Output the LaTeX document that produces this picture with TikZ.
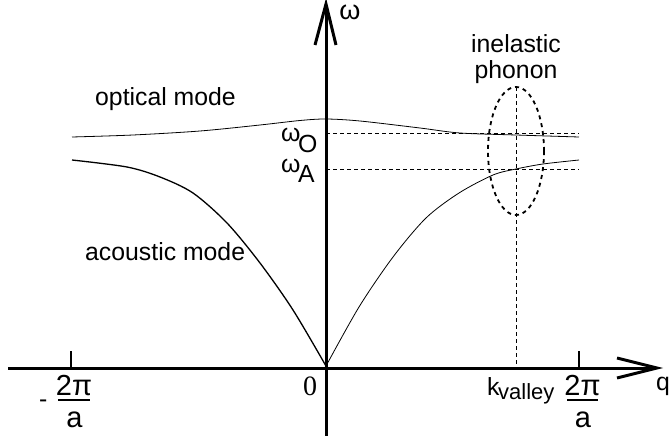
\documentclass[tikz,border=0pt]{standalone}
\usepackage{fontspec}
\setmainfont{Liberation Sans}
\newfontfamily\seriffont{Liberation Serif}
\begin{document}
\begin{tikzpicture}[x=1pt,y=-1pt,
  lbl/.style={inner sep=0pt, font=\fontsize{24.8}{28}\selectfont},
  sub/.style={inner sep=0pt, font=\fontsize{22}{26}\selectfont},
  frac/.style={inner sep=0pt, font=\fontsize{29}{32}\selectfont},
  axisline/.style={line width=3pt},
  arrowv/.style={line width=3pt, line join=miter, miter limit=10},
  tick/.style={line width=1.5pt},
  curve/.style={line width=0.8pt},
  curvethick/.style={line width=1.3pt},
  guide/.style={line width=0.7pt, dash pattern=on 4pt off 3pt},
  ell/.style={line width=1.8pt, dash pattern=on 4pt off 4pt}]
\useasboundingbox (0,0) rectangle (670,436);
% coordinates
\coordinate (O) at (326,367);
\coordinate (xs) at (8,368);
\coordinate (xe) at (655,368);
\coordinate (xt) at (657,368);
\coordinate (ys) at (326,436);
\coordinate (ye) at (326,6);
\coordinate (yt) at (326,4);
% curves
\draw[curve] plot[smooth] coordinates {(72,137) (133,135) (200,131) (260,125) (300,120.5) (326,119) (360,121) (420,128) (460,133) (516,135) (579,137)};
\draw[curvethick] plot[smooth] coordinates {(326,366) (293,310) (260,263) (227,223) (193,193) (160,177) (127,167) (72,160)};
\draw[curve] plot[smooth] coordinates {(326,366) (359,307) (393,257) (426,218) (459,193) (493,175) (516,169) (543,164) (579,160)};
% guides
\coordinate (oL) at (326,133); \coordinate (oR) at (579,133);
\coordinate (aL) at (326,169); \coordinate (aR) at (579,169);
\coordinate (vT) at (516,87); \coordinate (vB) at (516,368);
\draw[guide] (oL) -- (oR);
\draw[guide] (aL) -- (aR);
\draw[guide] (vT) -- (vB);
\coordinate (ec) at (516,151);
\draw[ell] (ec) ellipse [x radius=28pt, y radius=64pt];
% axes
\draw[axisline] (xs) -- (xe);
\draw[axisline] (ys) -- (ye);
\draw[arrowv] (617,358) -- (xt) -- (617,378);
\draw[arrowv] (315,45) -- (yt) -- (336,45);
% ticks
\coordinate (t1a) at (71,351); \coordinate (t1b) at (71,368);
\coordinate (t2a) at (579,351); \coordinate (t2b) at (579,368);
\draw[tick] (t1a) -- (t1b);
\draw[tick] (t2a) -- (t2b);
% labels
\node[lbl, font=\fontsize{27}{30}\selectfont, anchor=base, text height=13pt, text depth=0pt] (w) at (350,20) {ω};
\node[lbl, anchor=base west] (q) at (656,390) {q};
\node[inner sep=0pt, anchor=base, font={\seriffont\fontsize{28}{30}\selectfont}] (zero) at (310,395) {0};
\node[lbl, anchor=base west] (opt) at (95,106) {optical mode};
\node[lbl, anchor=base west] (ac) at (85,260) {acoustic mode};
\node[lbl, anchor=base] (ine) at (516,53) {inelastic};
\node[lbl, anchor=base] (pho) at (516,79) {phonon};
\node[lbl, anchor=base west] (wO) at (281,142) {ω};
\node[lbl, anchor=base west] (wOs) at (298,152) {O};
\node[lbl, anchor=base west] (wA) at (281,172) {ω};
\node[lbl, anchor=base west] (wAs) at (298,182) {A};
\node[lbl, anchor=base west] (k) at (487,395) {k};
\node[sub, anchor=base west] (ks) at (498,399) {valley};
% fractions
\node[lbl, anchor=base west] (minus) at (39,407) {-};
\node[frac, anchor=base] (n1) at (74,395) {2π};
\node[frac, anchor=base] (d1) at (74.5,427) {a};
\coordinate (b1a) at (58,400); \coordinate (b1b) at (90,400);
\draw[line width=1.3pt] (b1a) -- (b1b);
\node[frac, anchor=base] (n2) at (582.5,395) {2π};
\node[frac, anchor=base] (d2) at (583,427) {a};
\coordinate (b2a) at (567,400); \coordinate (b2b) at (598,400);
\draw[line width=1.3pt] (b2a) -- (b2b);
\end{tikzpicture}
\end{document}
